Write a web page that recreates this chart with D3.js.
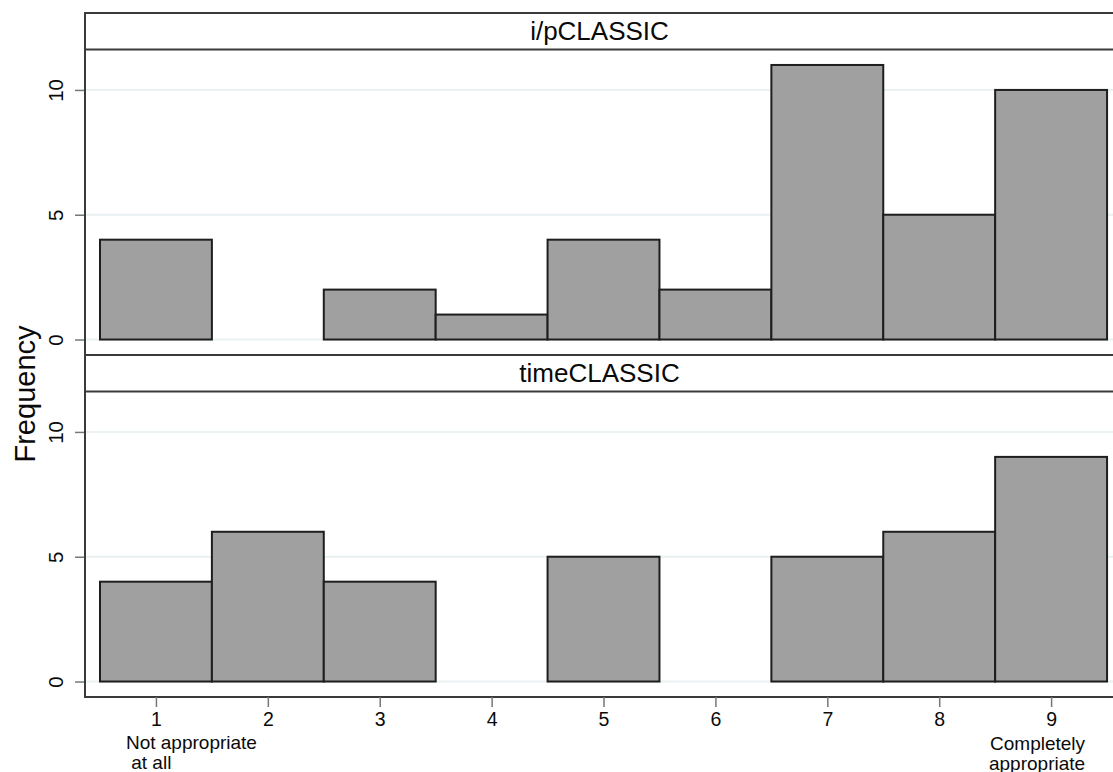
<!DOCTYPE html>
<html>
<head>
<meta charset="utf-8">
<script src="https://cdn.jsdelivr.net/npm/d3@7"></script>
<style>
  html, body { margin: 0; padding: 0; background: #fff; }
  svg { display: block; font-family: "Liberation Sans", Arial, Helvetica, sans-serif; }
</style>
</head>
<body>
<svg id="chart" width="1113" height="772"></svg>
<script>
// Rating scale (1 = not appropriate at all, 9 = completely appropriate)
const bins = [1, 2, 3, 4, 5, 6, 7, 8, 9];
// Frequencies per rating, one array per panel
const ipClassic = [4, 0, 2, 1, 4, 2, 11, 5, 10];
const timeClassic = [4, 6, 4, 0, 5, 0, 5, 6, 9];
const panelTitles = ["i/pCLASSIC", "timeCLASSIC"];
const yTicks = [0, 5, 10];
const xTicks = [1, 2, 3, 4, 5, 6, 7, 8, 9];
const xTickLabels = ["1", "2", "3", "4", "5", "6", "7", "8", "9"];
const lowAnchorLines = ["Not appropriate", " at all"];
const highAnchorLines = ["Completely", "appropriate"];
const yTitle = "Frequency";

const series = [ipClassic, timeClassic];

const svg = d3.select("#chart");
const left = 85, right = 1116;
const top0 = 13, headerH = 36.5, plotH = 305.5;

const x = d3.scaleLinear().domain([0.366, 9.58]).range([left, right]);

const frameColor = "#3a3a3a";
const gridColor = "#e9f1f3";

series.forEach((vals, i) => {
  const headerTop = top0 + i * (headerH + plotH);
  const plotTop = headerTop + headerH;
  const plotBottom = plotTop + plotH;
  const y = d3.scaleLinear().domain([-0.62, 11.62]).range([plotBottom, plotTop]);
  const g = svg.append("g");

  // gridlines
  g.selectAll("line.grid").data(yTicks).join("line")
    .attr("x1", left).attr("x2", right)
    .attr("y1", d => y(d)).attr("y2", d => y(d))
    .attr("stroke", gridColor).attr("stroke-width", 2);

  // bars
  const data = bins.map((b, k) => ({ b, v: vals[k] })).filter(d => d.v > 0);
  g.selectAll("rect.bar").data(data).join("rect")
    .attr("x", d => x(d.b - 0.5))
    .attr("width", d => x(d.b + 0.5) - x(d.b - 0.5))
    .attr("y", d => y(d.v))
    .attr("height", d => y(0) - y(d.v))
    .attr("fill", "#a0a0a0")
    .attr("stroke", "#1e1e1e")
    .attr("stroke-width", 2);

  // y axis
  const yAxis = d3.axisLeft(y).tickValues(yTicks).tickSize(10).tickPadding(0).tickFormat(d3.format("d"));
  const ya = g.append("g").attr("transform", `translate(${left},0)`).call(yAxis);
  ya.select(".domain").remove();
  ya.selectAll(".tick line").attr("stroke", "#777").attr("stroke-width", 1.5);
  ya.selectAll(".tick text")
    .attr("transform", "translate(-22,0) rotate(-90)")
    .attr("x", 0).attr("y", 0).attr("dy", 0)
    .attr("text-anchor", "middle")
    .attr("font-size", 20.5)
    .attr("fill", "#0a0a0a");

  // header strip
  g.append("line").attr("x1", left).attr("x2", right + 5).attr("y1", headerTop).attr("y2", headerTop)
    .attr("stroke", frameColor).attr("stroke-width", 2);
  g.append("line").attr("x1", left).attr("x2", right + 5).attr("y1", plotTop).attr("y2", plotTop)
    .attr("stroke", frameColor).attr("stroke-width", 2);
  g.append("text")
    .attr("x", (left + right) / 2 - 1)
    .attr("y", plotTop - 10)
    .attr("text-anchor", "middle")
    .attr("font-size", 26)
    .attr("fill", "#0a0a0a")
    .text(panelTitles[i]);

  if (i === series.length - 1) {
    g.append("line").attr("x1", left).attr("x2", right + 5).attr("y1", plotBottom).attr("y2", plotBottom)
      .attr("stroke", frameColor).attr("stroke-width", 2);

    const xAxis = d3.axisBottom(x).tickValues(xTicks).tickSize(10).tickPadding(5)
      .tickFormat((d, k) => xTickLabels[k]);
    const xa = g.append("g").attr("transform", `translate(0,${plotBottom})`).call(xAxis);
    xa.select(".domain").remove();
    xa.selectAll(".tick line").attr("stroke", "#777").attr("stroke-width", 1.5);
    xa.selectAll(".tick text").attr("font-size", 19.5).attr("fill", "#0a0a0a");

    // extra lines under the end ticks
    const lineGap = 19.5;
    lowAnchorLines.forEach((t, k) => {
      g.append("text")
        .attr("x", x(xTicks[0]) - 30)
        .attr("y", plotBottom + 52 + k * lineGap)
        .attr("font-size", 19).attr("fill", "#0a0a0a")
        .style("white-space", "pre")
        .text(t);
    });
    highAnchorLines.forEach((t, k) => {
      g.append("text")
        .attr("x", x(xTicks[xTicks.length - 1]) + 34)
        .attr("y", plotBottom + 53 + k * lineGap)
        .attr("text-anchor", "end")
        .attr("font-size", 19).attr("fill", "#0a0a0a")
        .text(t);
    });
  }
});

// left frame
svg.append("line").attr("x1", left).attr("x2", left)
  .attr("y1", top0 - 1).attr("y2", top0 + 2 * (headerH + plotH) + 1)
  .attr("stroke", frameColor).attr("stroke-width", 2);

// y axis title
svg.append("text")
  .attr("transform", `translate(35,${(top0 + top0 + 2 * (headerH + plotH)) / 2 + 39}) rotate(-90)`)
  .attr("text-anchor", "middle")
  .attr("font-size", 29)
  .attr("fill", "#0a0a0a")
  .text(yTitle);
</script>
</body>
</html>
